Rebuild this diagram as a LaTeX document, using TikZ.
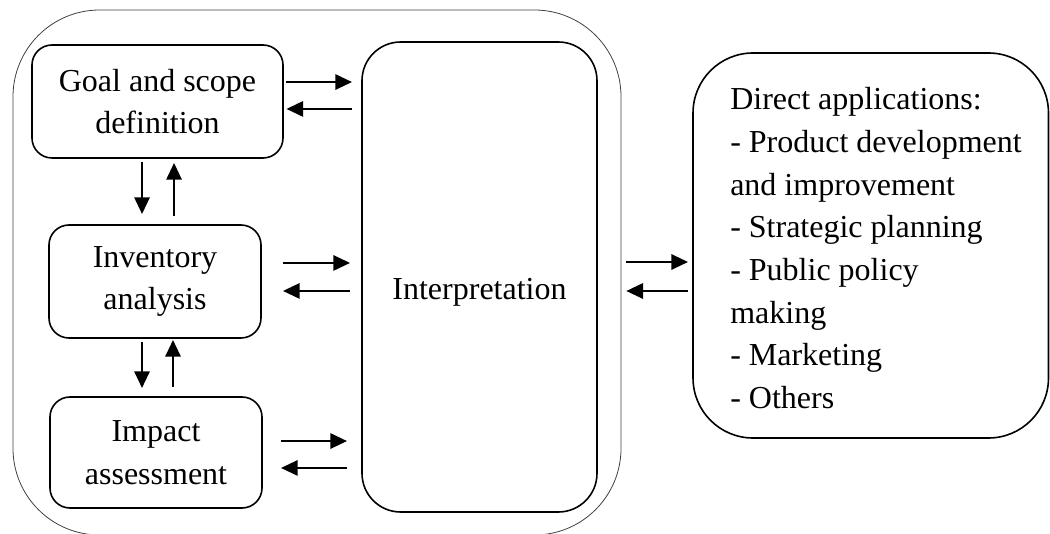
\documentclass[tikz,border=0pt]{standalone}
\usepackage{fontspec}
\setmainfont{Liberation Serif}
\usetikzlibrary{arrows.meta}
\begin{document}
\begin{tikzpicture}[x=0.75pt,y=-0.75pt,
  txt/.style={font=\fontsize{24}{32}\selectfont},
  box/.style={draw, line width=1.2pt, inner sep=0pt, outer sep=0pt, align=center, txt},
  stage/.style={box, rounded corners=15pt},
  flow/.style={line width=1.5pt, -{Triangle[length=12.5pt,width=11.5pt]}}]
\useasboundingbox (0,0) rectangle (1050,534);

% framework enclosure
\node[draw=black!75, line width=0.6pt, rounded corners=65pt, inner sep=0pt,
      minimum width=456pt, minimum height=393.75pt] (frame) at (317,272.5) {};

% phases
\node[stage, minimum width=188.25pt, minimum height=84.75pt] (goal) at (157.5,101.5) {Goal and scope\\definition};
\node[stage, minimum width=159pt, minimum height=84.75pt] (inv) at (155,281.5) {Inventory\\analysis};
\node[stage, minimum width=159pt, minimum height=83.25pt] (imp) at (156,452.5) {Impact\\assessment};
\node[box, rounded corners=29pt, minimum width=176.25pt, minimum height=352.5pt,
      text height=39pt, text depth=4.5pt] (interp) at (479.5,277) {Interpretation};

% applications
\node[box, rounded corners=45pt, minimum width=266.6pt, minimum height=288.75pt] (direct) at (870.75,245.5) {};
\node[txt, align=left, inner sep=0pt, anchor=north west] (directtxt) at (730,87.5)
  {Direct applications:\\- Product development\\and improvement\\- Strategic planning\\- Public policy\\making\\- Marketing\\- Others};

% goal <-> interpretation
\coordinate (gA) at ([yshift=14.6pt]goal.east);
\coordinate (gB) at ([yshift=-5.6pt]goal.east);
\draw[flow, shorten <=2.6pt, shorten >=7.5pt] (gA) -- (gA -| interp.west);
\draw[flow, shorten <=7.5pt, shorten >=2.6pt] (gB -| interp.west) -- (gB);

% inventory <-> interpretation
\coordinate (iA) at ([yshift=13.9pt]inv.east);
\coordinate (iB) at ([yshift=-7.1pt]inv.east);
\draw[flow, shorten <=16.5pt, shorten >=9pt] (iA) -- (iA -| interp.west);
\draw[flow, shorten <=9pt, shorten >=16.5pt] (iB -| interp.west) -- (iB);

% impact <-> interpretation
\coordinate (mA) at ([yshift=8.6pt]imp.east);
\coordinate (mB) at ([yshift=-11.6pt]imp.east);
\draw[flow, shorten <=14.25pt, shorten >=11.25pt] (mA) -- (mA -| interp.west);
\draw[flow, shorten <=11.25pt, shorten >=14.25pt] (mB -| interp.west) -- (mB);

% interpretation <-> applications
\coordinate (dA) at ([yshift=11.25pt]interp.east);
\coordinate (dB) at ([yshift=-10.5pt]interp.east);
\draw[flow, shorten <=22pt, shorten >=3.75pt] (dA) -- (dA -| direct.west);
\draw[flow, shorten <=3.75pt, shorten >=22pt] (dB -| direct.west) -- (dB);

% goal <-> inventory
\coordinate (vA) at ([xshift=-11.6pt]goal.south);
\coordinate (vB) at ([xshift=12.4pt]goal.south);
\draw[flow, shorten <=3pt, shorten >=8.25pt] (vA) -- (vA |- inv.north);
\draw[flow, shorten <=6.75pt, shorten >=3.75pt] (vB |- inv.north) -- (vB);

% inventory <-> impact
\coordinate (wA) at ([xshift=-9.75pt]inv.south);
\coordinate (wB) at ([xshift=13.5pt]inv.south);
\draw[flow, shorten <=3pt, shorten >=6.75pt] (wA) -- (wA |- imp.north);
\draw[flow, shorten <=7.5pt, shorten >=1.5pt] (wB |- imp.north) -- (wB);
\end{tikzpicture}
\end{document}
